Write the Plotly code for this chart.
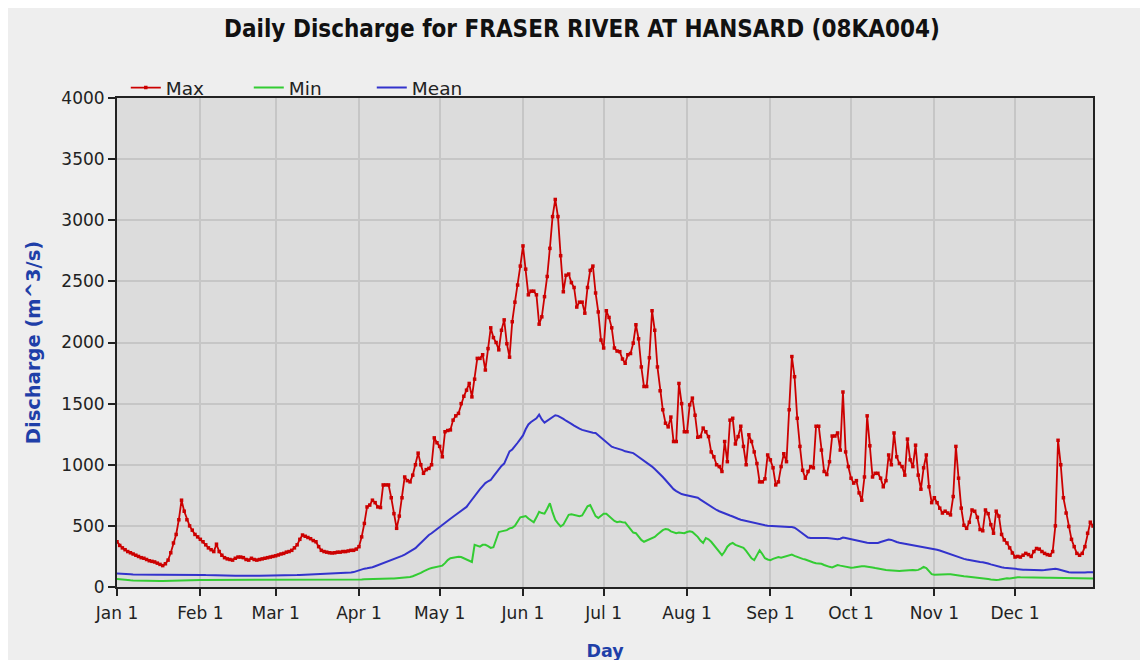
import plotly.graph_objects as go

# ---- data, one value per day, Jan 1 .. Dec 31 ----
month_ticks = [0, 31, 59, 90, 120, 151, 181, 212, 243, 273, 304, 334]
month_labels = ["Jan 1", "Feb 1", "Mar 1", "Apr 1", "May 1", "Jun 1",
                "Jul 1", "Aug 1", "Sep 1", "Oct 1", "Nov 1", "Dec 1"]
y_ticks = [0, 500, 1000, 1500, 2000, 2500, 3000, 3500, 4000]

max_q = [
    # Jan
    370, 340, 320, 305, 290, 280, 270, 260, 250, 240, 235, 225, 215, 210, 205, 195,
    185, 175, 190, 220, 280, 360, 430, 550, 710, 620, 550, 500, 465, 430, 410,
    # Feb
    390, 370, 345, 320, 305, 290, 350, 290, 260, 240, 230, 225, 220, 235, 245, 245,
    240, 225, 220, 235, 225, 220, 225, 230, 235, 240, 245, 250,
    # Mar
    255, 262, 270, 275, 285, 290, 300, 320, 345, 390, 425, 415, 405, 395, 380, 370,
    330, 300, 290, 285, 280, 278, 280, 285, 285, 290, 290, 295, 300, 300, 310,
    # Apr
    330, 410, 520, 655, 670, 710, 690, 655, 650, 835, 835, 835, 730, 600, 480, 580,
    730, 900, 870, 860, 915, 1000, 1095, 1000, 930, 960, 970, 1000, 1220, 1180,
    # May
    1150, 1065, 1270, 1280, 1285, 1365, 1400, 1420, 1500, 1560, 1610, 1665, 1555, 1700,
    1870, 1870, 1900, 1775, 1950, 2120, 2040, 2000, 1940, 2100, 2185, 1990, 1880, 2170,
    2330, 2470, 2625,
    # Jun
    2790, 2600, 2390, 2420, 2420, 2390, 2150, 2210, 2375, 2540, 2770, 3030, 3170, 3030,
    2710, 2415, 2550, 2560, 2490, 2450, 2290, 2330, 2330, 2240, 2450, 2590, 2625, 2405,
    2250, 2020,
    # Jul
    1955, 2260, 2205, 2120, 1955, 1930, 1925, 1865, 1830, 1900, 1910, 1995, 2145, 2030,
    1800, 1640, 1640, 1875, 2260, 2100, 1800, 1605, 1450, 1340, 1310, 1390, 1190, 1190,
    1665, 1500, 1270,
    # Aug
    1270, 1490, 1545, 1405, 1225, 1230, 1300, 1270, 1230, 1105, 1065, 1000, 985, 945,
    1190, 1025, 1365, 1380, 1170, 1230, 1315, 1150, 1000, 1245, 1190, 1105, 1010, 860,
    860, 885, 1080,
    # Sep
    1040, 975, 835, 860, 985, 1090, 1025, 1450, 1885, 1720, 1380, 1150, 955, 890, 945,
    985, 975, 1315, 1315, 1120, 945, 920, 1025, 1235, 1235, 1260, 1120, 1595, 1105, 985,
    # Oct
    890, 850, 870, 770, 710, 900, 1400, 1155, 900, 930, 930, 890, 820, 870, 1080, 1000,
    1260, 1065, 1010, 985, 915, 1210, 1040, 985, 1160, 915, 800, 975, 1080, 820, 690,
    # Nov
    730, 690, 645, 605, 620, 605, 590, 740, 1150, 890, 645, 505, 480, 530, 630, 620,
    570, 470, 460, 630, 600, 510, 440, 620, 580, 430, 385, 360, 320, 278,
    # Dec
    245, 250, 245, 260, 275, 265, 250, 290, 315, 310, 290, 275, 265, 260, 290, 500,
    1200, 1000, 730, 605, 495, 390, 330, 275, 260, 275, 330, 440, 530, 500, 520,
]

min_q = [
    # Jan
    65, 62, 60, 58, 56, 55, 54, 53, 52, 52, 51, 51, 50, 50, 50, 50, 50, 50, 51, 52,
    53, 54, 55, 56, 57, 58, 58, 58, 58, 58, 58,
    # Feb
    58, 58, 58, 58, 57, 57, 57, 57, 57, 57, 57, 56, 56, 56, 56, 56, 56, 56, 56, 56,
    56, 56, 56, 56, 56, 56, 56, 56,
    # Mar
    56, 56, 56, 56, 56, 56, 56, 57, 57, 57, 57, 57, 57, 57, 57, 58, 58, 58, 58, 58,
    58, 58, 58, 59, 59, 59, 60, 60, 60, 61, 62,
    # Apr
    62, 62, 63, 63, 64, 64, 65, 65, 66, 66, 67, 68, 69, 70, 71, 72, 74, 76, 78, 82,
    88, 95, 105, 115, 128, 140, 148, 155, 160, 163,
    # May
    165, 175, 195, 220, 235, 240, 245, 248, 245, 235, 225, 210, 205, 345, 340, 330,
    345, 345, 335, 320, 325, 380, 450, 455, 460, 465, 480, 485, 500, 540, 570,
    # Jun
    575, 580, 560, 545, 530, 570, 615, 605, 600, 640, 685, 610, 550, 520, 495, 510,
    550, 590, 595, 590, 585, 580, 585, 620, 660, 670, 620, 580, 565, 585,
    # Jul
    600, 600, 580, 555, 540, 530, 535, 530, 528, 500, 470, 445, 440, 410, 385, 370,
    380, 395, 405, 410, 430, 450, 465, 475, 470, 455, 445, 440, 445, 440, 440,
    # Aug
    450, 455, 450, 430, 410, 380, 360, 400, 390, 370, 340, 310, 280, 260, 290, 330,
    350, 360, 345, 335, 325, 320, 295, 265, 235, 220, 260, 300, 270, 235, 225,
    # Sep
    220, 230, 240, 245, 240, 245, 255, 260, 265, 255, 245, 235, 230, 225, 215, 205,
    200, 195, 195, 190, 180, 170, 165, 160, 170, 180, 175, 170, 165, 160,
    # Oct
    158, 160, 165, 168, 170, 170, 168, 165, 160, 155, 150, 145, 140, 140, 138, 135,
    132, 130, 130, 132, 135, 138, 140, 140, 138, 140, 150, 165, 155, 125, 105,
    # Nov
    100, 102, 105, 106, 106, 105, 104, 100, 95, 92, 90, 88, 86, 84, 82, 80, 78, 75,
    72, 68, 65, 62, 58, 57, 60, 65, 70, 72, 70, 75,
    # Dec
    80, 80, 79, 78, 78, 77, 77, 76, 76, 76, 75, 75, 75, 75, 75, 74, 74, 74, 73, 73,
    73, 72, 72, 72, 72, 71, 71, 71, 70, 70, 70,
]

mean_q = [
    # Jan
    110, 110, 108, 106, 105, 104, 103, 102, 101, 100, 100, 100, 100, 100, 100, 100,
    100, 100, 100, 101, 102, 103, 104, 105, 105, 104, 103, 102, 102, 101, 100,
    # Feb
    100, 99, 98, 97, 97, 96, 96, 95, 95, 95, 94, 94, 93, 93, 93, 92, 92, 92, 92, 92,
    92, 92, 92, 92, 93, 93, 93, 94,
    # Mar
    94, 95, 95, 96, 96, 97, 97, 98, 98, 99, 100, 100, 101, 101, 102, 102, 103, 103,
    104, 105, 106, 107, 108, 109, 110, 112, 114, 116, 118, 122, 130,
    # Apr
    140, 145, 150, 153, 156, 162, 170, 178, 186, 195, 203, 211, 220, 228, 236, 245,
    255, 265, 277, 289, 300, 318, 340, 362, 386, 410, 425, 440, 458, 475,
    # May
    490, 507, 524, 541, 558, 575, 590, 606, 622, 638, 655, 685, 715, 748, 780, 800,
    825, 850, 865, 875, 905, 935, 965, 990, 1010, 1060, 1110, 1125, 1150, 1180, 1210,
    # Jun
    1240, 1290, 1330, 1350, 1365, 1380, 1410, 1370, 1345, 1360, 1380, 1395, 1405, 1400,
    1390, 1375, 1360, 1350, 1335, 1320, 1305, 1295, 1285, 1278, 1270, 1265, 1262, 1260,
    1240, 1220,
    # Jul
    1205, 1185, 1165, 1148, 1140, 1135, 1128, 1120, 1110, 1105, 1100, 1095, 1080, 1065,
    1050, 1035, 1015, 1000, 985, 965, 945, 925, 900, 875, 850, 825, 800, 785, 770, 760,
    755,
    # Aug
    750, 745, 738, 735, 730, 715, 700, 685, 670, 655, 640, 630, 620, 610, 600, 592,
    585, 577, 565, 558, 550, 545, 540, 535, 528, 520, 515, 512, 510, 505, 502,
    # Sep
    500, 500, 500, 497, 495, 492, 490, 490, 490, 485, 470, 455, 440, 420, 405, 400,
    400, 402, 405, 405, 402, 400, 398, 395, 392, 390, 395, 405, 400, 395,
    # Oct
    390, 385, 378, 372, 368, 365, 362, 360, 358, 357, 360, 368, 375, 385, 388, 385,
    375, 368, 362, 358, 355, 352, 348, 345, 340, 335, 330, 325, 322, 318, 318,
    # Nov
    312, 305, 298, 290, 282, 275, 268, 262, 255, 245, 238, 230, 225, 220, 215, 210,
    207, 205, 203, 200, 192, 185, 178, 172, 166, 162, 158, 155, 152, 150,
    # Dec
    148, 146, 144, 142, 141, 140, 139, 138, 137, 137, 138, 140, 142, 145, 148, 150,
    145, 138, 132, 126, 120, 118, 117, 116, 116, 117, 118, 120, 120, 121, 122,
]

days = list(range(len(max_q)))

fig = go.Figure()
fig.add_trace(go.Scatter(
    x=days, y=max_q, name="Max", mode="lines+markers",
    line=dict(color="#cc0000", width=1.8),
    marker=dict(color="#cc0000", size=3.5, symbol="square"),
))
fig.add_trace(go.Scatter(
    x=days, y=min_q, name="Min", mode="lines",
    line=dict(color="#33cc33", width=2),
))
fig.add_trace(go.Scatter(
    x=days, y=mean_q, name="Mean", mode="lines",
    line=dict(color="#3333cc", width=2),
))

SANS = "DejaVu Sans, Verdana, sans-serif"
tick_font = dict(family=SANS, size=17, color="#222222")
title_blue = "#1f3fa8"

fig.update_layout(
    width=1148, height=660,
    margin=dict(l=109, r=63, t=90, b=81, autoexpand=False),
    paper_bgcolor="#eeeeee",
    plot_bgcolor="#dcdcdc",
    title=dict(
        text="<b>Daily Discharge for FRASER RIVER AT HANSARD (08KA004)</b>",
        font=dict(family="Liberation Sans Narrow, Arial Narrow, DejaVu Sans Condensed, sans-serif",
                  size=24, color="#111111"),
        x=0.5, xanchor="center", xref="container",
        y=1 - 21 / 660, yanchor="middle", yref="container",
    ),
    legend=dict(
        orientation="h", x=0.009, xanchor="left", y=1 - 9 / 489, yanchor="bottom",
        font=dict(family=SANS, size=18.5, color="#222222"),
        bgcolor="rgba(0,0,0,0)", entrywidth=78, itemwidth=30,
        tracegroupgap=0,
    ),
    showlegend=True,
    xaxis=dict(
        range=[0, 363],
        tickmode="array", tickvals=month_ticks, ticktext=month_labels,
        showgrid=True, gridcolor="#c6c6c6", gridwidth=2,
        zeroline=False,
        showline=True, linecolor="#222222", linewidth=2, mirror=True,
        ticks="outside", ticklen=7, tickcolor="#222222", tickwidth=2,
        tickfont=tick_font, ticklabelstandoff=3,
        title=dict(text="<b>Day</b>", font=dict(family=SANS, size=17.5, color=title_blue),
                   standoff=22),
        automargin=False,
    ),
    yaxis=dict(
        range=[0, 4000],
        tickmode="array", tickvals=y_ticks,
        showgrid=True, gridcolor="#c6c6c6", gridwidth=2,
        zeroline=False,
        showline=True, linecolor="#222222", linewidth=2, mirror=True,
        ticks="outside", ticklen=7, tickcolor="#222222", tickwidth=2,
        tickfont=tick_font,
        title=dict(text="<b>Discharge (m^3/s)</b>", font=dict(family=SANS, size=19.5, color=title_blue),
                   standoff=16),
        automargin=False,
    ),
)

fig.write_html("out.html")
